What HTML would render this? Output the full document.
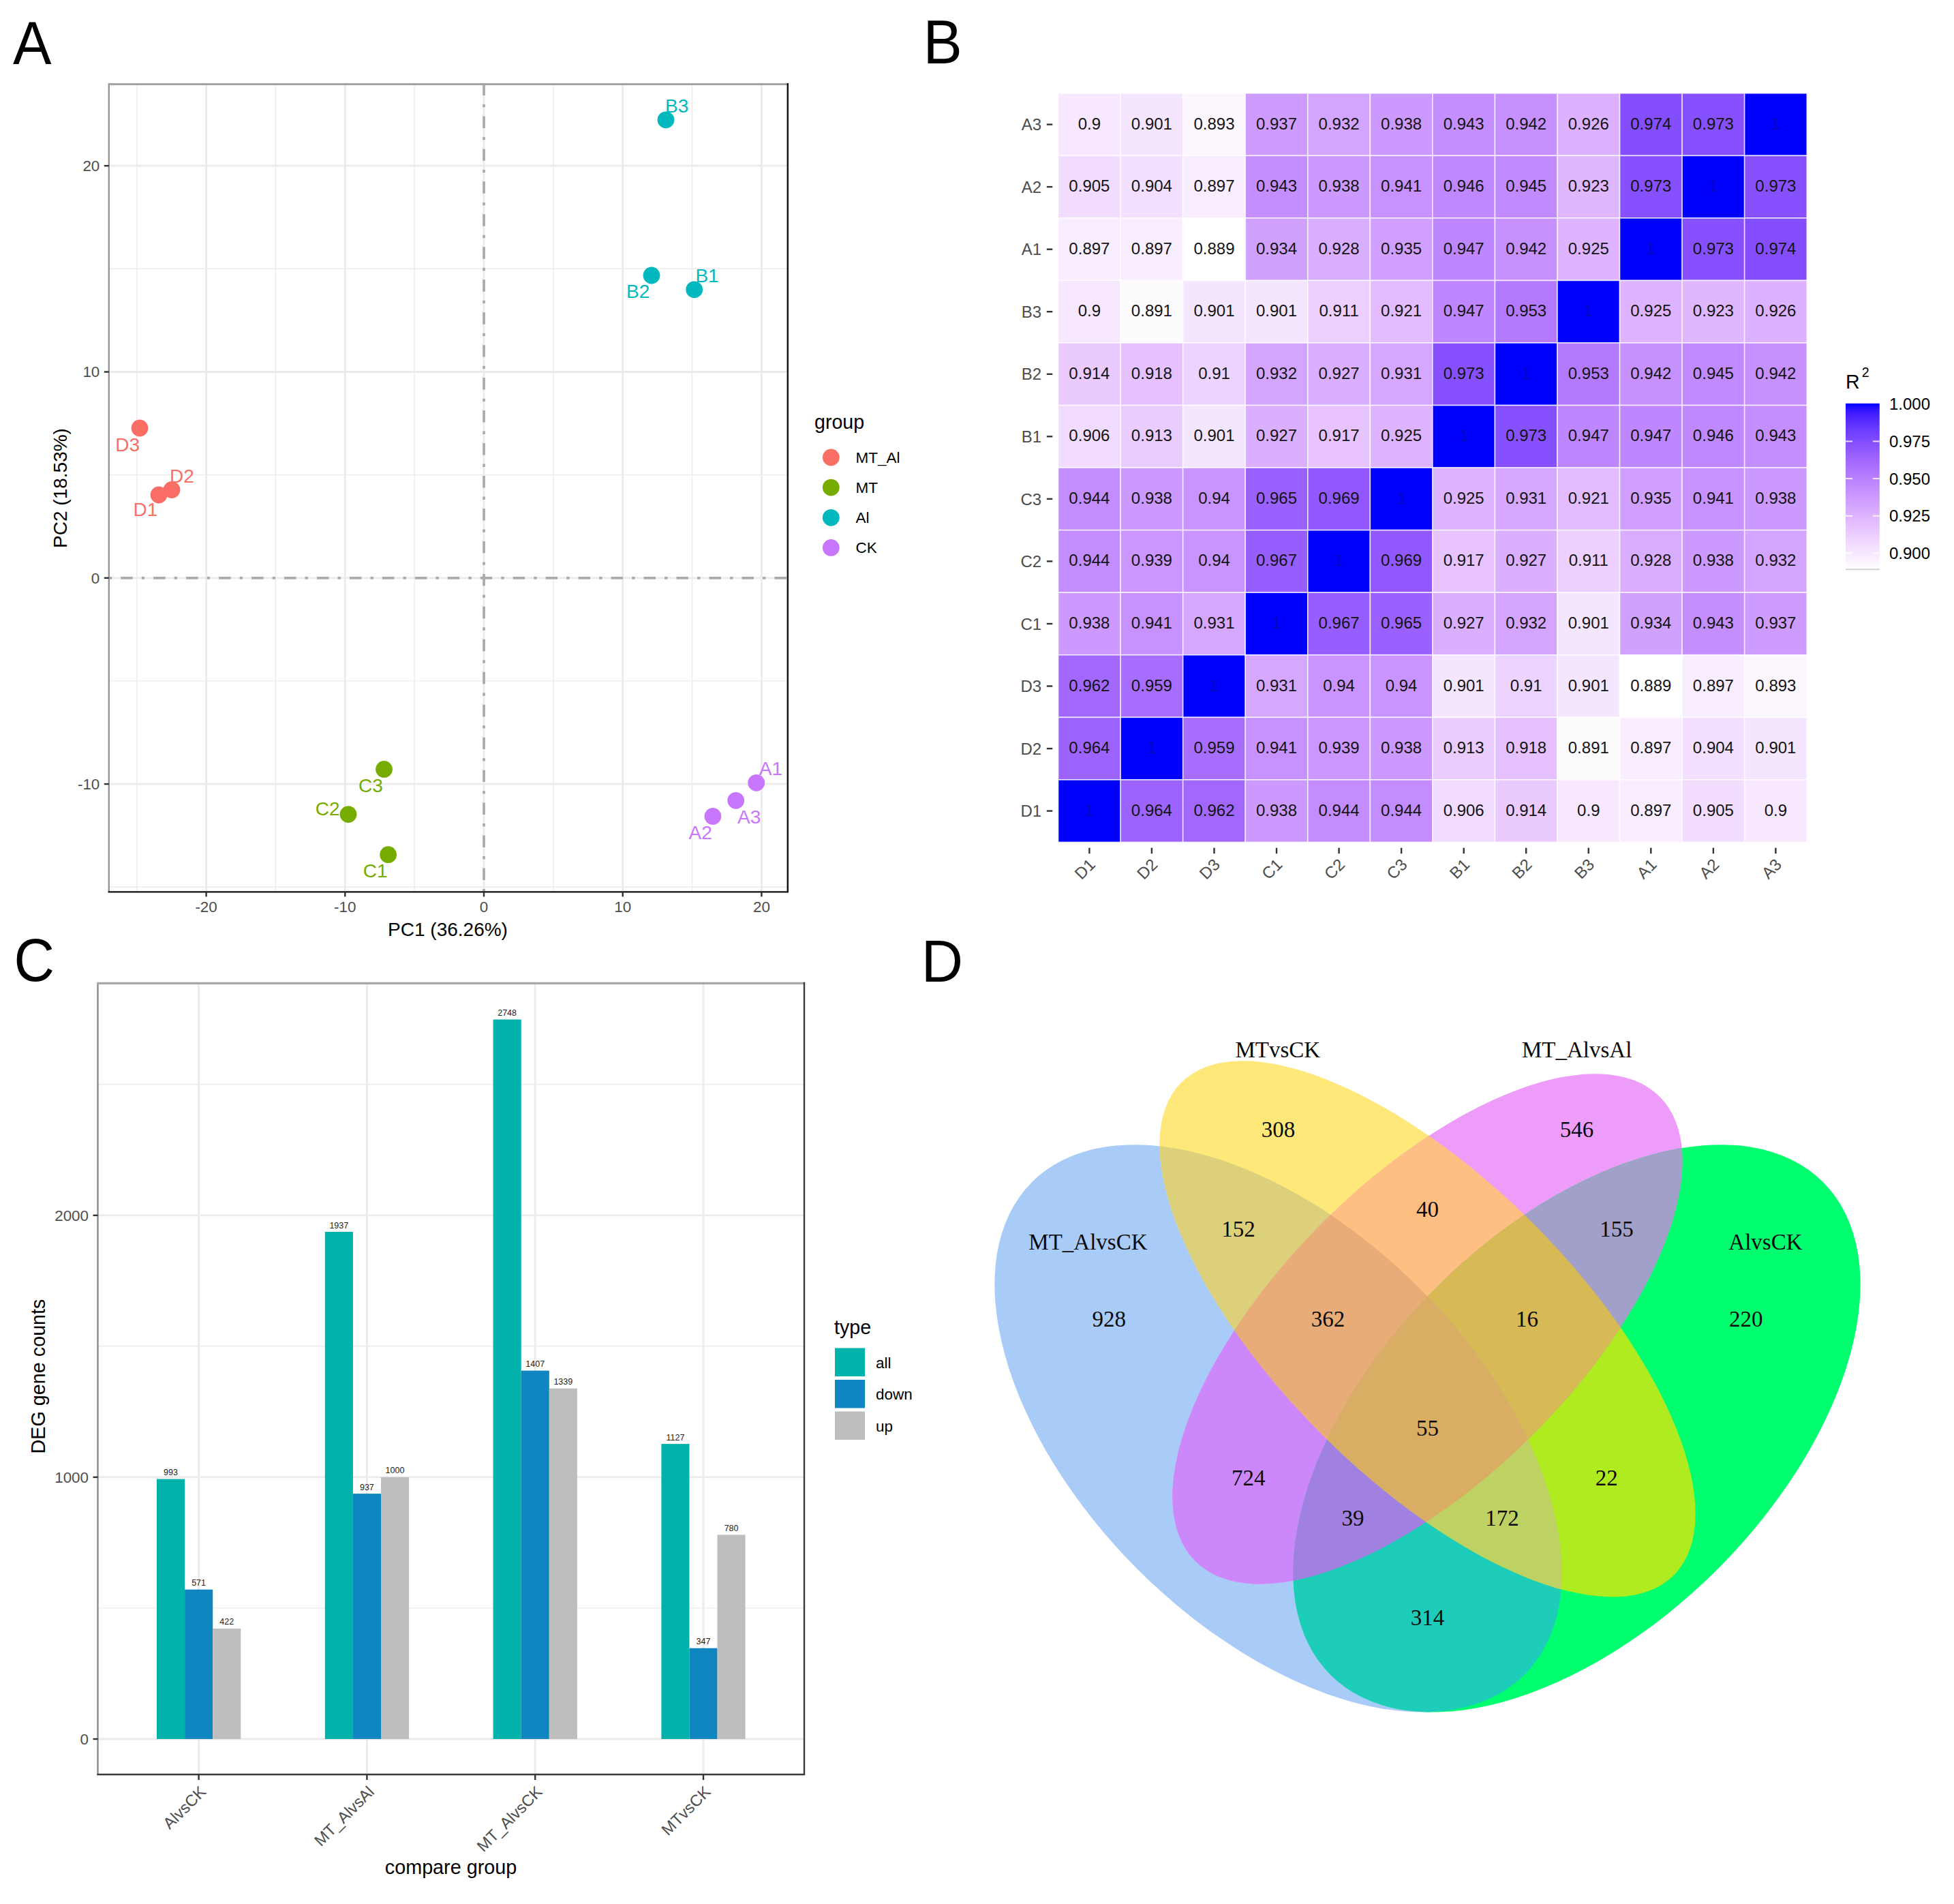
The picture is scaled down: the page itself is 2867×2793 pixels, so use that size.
<!DOCTYPE html>
<html lang="en"><head><meta charset="utf-8"><title>Figure</title>
<style>
html,body{margin:0;padding:0;background:#fff}
svg{display:block}
text{font-family:"Liberation Sans", Arial, Helvetica, sans-serif}
.pl{font-size:90px;fill:#000}
.ax{font-size:22.4px;fill:#4d4d4d}
.at{font-size:27.5px;fill:#000}
.lt{font-size:28.6px;fill:#000}
.ll{font-size:22.5px;fill:#000}
.pt{font-size:28px}
.hv{font-size:24px;fill:#141414;text-anchor:middle}
.hy{font-size:24px;fill:#4d4d4d;text-anchor:end}
.hx{font-size:24px;fill:#4d4d4d;text-anchor:end}
.bl{font-size:12.5px;fill:#222;text-anchor:middle}
.vn{font-family:"Liberation Serif", "Times New Roman", serif;font-size:33px;fill:#0a0a0a;text-anchor:middle}
</style></head><body>
<svg width="2867" height="2793" viewBox="0 0 2867 2793">
<rect width="2867" height="2793" fill="#fff"/>

<text class="pl" style="font-size:89.5px" transform="translate(19 93.8) scale(0.946 1)">A</text>
<text class="pl" style="font-size:90px" transform="translate(1354.5 93.3) scale(0.955 1)">B</text>
<text class="pl" style="font-size:88.5px" transform="translate(20.6 1439.2) scale(0.93 1)">C</text>
<text class="pl" style="font-size:87px" transform="translate(1351.7 1440.1) scale(0.975 1)">D</text>
<g id="panelA">
<line x1="200.8" x2="200.8" y1="123.5" y2="1308.4" stroke="#ebebeb" stroke-width="1.4"/>
<line x1="404.4" x2="404.4" y1="123.5" y2="1308.4" stroke="#ebebeb" stroke-width="1.4"/>
<line x1="608.1" x2="608.1" y1="123.5" y2="1308.4" stroke="#ebebeb" stroke-width="1.4"/>
<line x1="811.9" x2="811.9" y1="123.5" y2="1308.4" stroke="#ebebeb" stroke-width="1.4"/>
<line x1="1015.5" x2="1015.5" y1="123.5" y2="1308.4" stroke="#ebebeb" stroke-width="1.4"/>
<line y1="1301.2" y2="1301.2" x1="159.8" x2="1155.8" stroke="#ebebeb" stroke-width="1.4"/>
<line y1="998.9" y2="998.9" x1="159.8" x2="1155.8" stroke="#ebebeb" stroke-width="1.4"/>
<line y1="696.6" y2="696.6" x1="159.8" x2="1155.8" stroke="#ebebeb" stroke-width="1.4"/>
<line y1="394.3" y2="394.3" x1="159.8" x2="1155.8" stroke="#ebebeb" stroke-width="1.4"/>
<line x1="302.6" x2="302.6" y1="123.5" y2="1308.4" stroke="#ebebeb" stroke-width="2.8"/>
<line x1="506.3" x2="506.3" y1="123.5" y2="1308.4" stroke="#ebebeb" stroke-width="2.8"/>
<line x1="710.0" x2="710.0" y1="123.5" y2="1308.4" stroke="#ebebeb" stroke-width="2.8"/>
<line x1="913.7" x2="913.7" y1="123.5" y2="1308.4" stroke="#ebebeb" stroke-width="2.8"/>
<line x1="1117.4" x2="1117.4" y1="123.5" y2="1308.4" stroke="#ebebeb" stroke-width="2.8"/>
<line y1="1150.1" y2="1150.1" x1="159.8" x2="1155.8" stroke="#ebebeb" stroke-width="2.8"/>
<line y1="847.8" y2="847.8" x1="159.8" x2="1155.8" stroke="#ebebeb" stroke-width="2.8"/>
<line y1="545.5" y2="545.5" x1="159.8" x2="1155.8" stroke="#ebebeb" stroke-width="2.8"/>
<line y1="243.2" y2="243.2" x1="159.8" x2="1155.8" stroke="#ebebeb" stroke-width="2.8"/>
<line x1="710.0" x2="710.0" y1="1308.4" y2="123.5" stroke="#ababab" stroke-width="3.8" stroke-dasharray="4.36 13.08 17.44 13.08"/>
<line y1="847.8" y2="847.8" x1="159.8" x2="1155.8" stroke="#ababab" stroke-width="3.8" stroke-dasharray="4.36 13.08 17.44 13.08"/>
<circle cx="977" cy="175.8" r="12.4" fill="#00B8BE"/>
<circle cx="956" cy="404" r="12.4" fill="#00B8BE"/>
<circle cx="1018.7" cy="424.8" r="12.4" fill="#00B8BE"/>
<circle cx="205" cy="628" r="12.4" fill="#FA6E66"/>
<circle cx="252" cy="718.5" r="12.4" fill="#FA6E66"/>
<circle cx="233" cy="726" r="12.4" fill="#FA6E66"/>
<circle cx="563.5" cy="1128.4" r="12.4" fill="#76AC00"/>
<circle cx="511" cy="1194.6" r="12.4" fill="#76AC00"/>
<circle cx="569.6" cy="1253.7" r="12.4" fill="#76AC00"/>
<circle cx="1109.7" cy="1148.3" r="12.4" fill="#C876FC"/>
<circle cx="1079.7" cy="1174.3" r="12.4" fill="#C876FC"/>
<circle cx="1045.9" cy="1197.4" r="12.4" fill="#C876FC"/>
<text class="pt" x="976" y="165" fill="#00B8BE">B3</text>
<text class="pt" x="919" y="436.6" fill="#00B8BE">B2</text>
<text class="pt" x="1020.4" y="413.8" fill="#00B8BE">B1</text>
<text class="pt" x="169.3" y="661.8" fill="#FA6E66">D3</text>
<text class="pt" x="249" y="708" fill="#FA6E66">D2</text>
<text class="pt" x="195.5" y="757.4" fill="#FA6E66">D1</text>
<text class="pt" x="526" y="1161.5" fill="#76AC00">C3</text>
<text class="pt" x="462.7" y="1196" fill="#76AC00">C2</text>
<text class="pt" x="532.7" y="1287" fill="#76AC00">C1</text>
<text class="pt" x="1113.8" y="1137" fill="#C876FC">A1</text>
<text class="pt" x="1082" y="1207.6" fill="#C876FC">A3</text>
<text class="pt" x="1010.5" y="1231" fill="#C876FC">A2</text>
<path d="M159.8 1308.4V123.5" fill="none" stroke="#969696" stroke-width="2.4"/>
<path d="M158.60000000000002 123.5H1155.8" fill="none" stroke="#a4a4a4" stroke-width="2.8"/>
<path d="M1155.8 122.1V1308.4H158.60000000000002" fill="none" stroke="#111" stroke-width="2.4"/>
<line x1="152.8" x2="159.8" y1="1150.1" y2="1150.1" stroke="#333" stroke-width="2.4"/>
<text class="ax" text-anchor="end" x="146.3" y="1157.9">-10</text>
<line x1="152.8" x2="159.8" y1="847.8" y2="847.8" stroke="#333" stroke-width="2.4"/>
<text class="ax" text-anchor="end" x="146.3" y="855.6">0</text>
<line x1="152.8" x2="159.8" y1="545.5" y2="545.5" stroke="#333" stroke-width="2.4"/>
<text class="ax" text-anchor="end" x="146.3" y="553.3">10</text>
<line x1="152.8" x2="159.8" y1="243.2" y2="243.2" stroke="#333" stroke-width="2.4"/>
<text class="ax" text-anchor="end" x="146.3" y="251.0">20</text>
<line y1="1308.4" y2="1315.4" x1="302.6" x2="302.6" stroke="#333" stroke-width="2.4"/>
<text class="ax" text-anchor="middle" x="302.6" y="1337.8">-20</text>
<line y1="1308.4" y2="1315.4" x1="506.3" x2="506.3" stroke="#333" stroke-width="2.4"/>
<text class="ax" text-anchor="middle" x="506.3" y="1337.8">-10</text>
<line y1="1308.4" y2="1315.4" x1="710.0" x2="710.0" stroke="#333" stroke-width="2.4"/>
<text class="ax" text-anchor="middle" x="710.0" y="1337.8">0</text>
<line y1="1308.4" y2="1315.4" x1="913.7" x2="913.7" stroke="#333" stroke-width="2.4"/>
<text class="ax" text-anchor="middle" x="913.7" y="1337.8">10</text>
<line y1="1308.4" y2="1315.4" x1="1117.4" x2="1117.4" stroke="#333" stroke-width="2.4"/>
<text class="ax" text-anchor="middle" x="1117.4" y="1337.8">20</text>
<text class="at" text-anchor="middle" x="657" y="1372.6" style="font-size:28px">PC1 (36.26%)</text>
<text class="at" text-anchor="middle" transform="translate(98 716) rotate(-90)" style="font-size:28px">PC2 (18.53%)</text>
<text class="lt" x="1195" y="629.3">group</text>
<circle cx="1219.3" cy="671.0" r="12.4" fill="#FA6E66"/>
<text class="ll" x="1255.5" y="679.0">MT_Al</text>
<circle cx="1219.3" cy="715.1" r="12.4" fill="#76AC00"/>
<text class="ll" x="1255.5" y="723.1">MT</text>
<circle cx="1219.3" cy="759.3" r="12.4" fill="#00B8BE"/>
<text class="ll" x="1255.5" y="767.3">Al</text>
<circle cx="1219.3" cy="803.4" r="12.4" fill="#C876FC"/>
<text class="ll" x="1255.5" y="811.4">CK</text>
</g>
<g id="panelB">
<rect x="1552.60" y="136.80" width="91.55" height="91.55" fill="#f7e8ff" stroke="#fff" stroke-opacity="0.75" stroke-width="1.6"/>
<rect x="1552.60" y="228.35" width="91.55" height="91.55" fill="#f2ddff" stroke="#fff" stroke-opacity="0.75" stroke-width="1.6"/>
<rect x="1552.60" y="319.90" width="91.55" height="91.55" fill="#f8eeff" stroke="#fff" stroke-opacity="0.75" stroke-width="1.6"/>
<rect x="1552.60" y="411.45" width="91.55" height="91.55" fill="#f7e8ff" stroke="#fff" stroke-opacity="0.75" stroke-width="1.6"/>
<rect x="1552.60" y="503.00" width="91.55" height="91.55" fill="#eacaff" stroke="#fff" stroke-opacity="0.75" stroke-width="1.6"/>
<rect x="1552.60" y="594.55" width="91.55" height="91.55" fill="#f1dbff" stroke="#fff" stroke-opacity="0.75" stroke-width="1.6"/>
<rect x="1552.60" y="686.10" width="91.55" height="91.55" fill="#c38cff" stroke="#fff" stroke-opacity="0.75" stroke-width="1.6"/>
<rect x="1552.60" y="777.65" width="91.55" height="91.55" fill="#c38cff" stroke="#fff" stroke-opacity="0.75" stroke-width="1.6"/>
<rect x="1552.60" y="869.20" width="91.55" height="91.55" fill="#cc99ff" stroke="#fff" stroke-opacity="0.75" stroke-width="1.6"/>
<rect x="1552.60" y="960.75" width="91.55" height="91.55" fill="#a167ff" stroke="#fff" stroke-opacity="0.75" stroke-width="1.6"/>
<rect x="1552.60" y="1052.30" width="91.55" height="91.55" fill="#9d63ff" stroke="#fff" stroke-opacity="0.75" stroke-width="1.6"/>
<rect x="1552.60" y="1143.85" width="91.55" height="91.55" fill="#0000ff" stroke="#fff" stroke-opacity="0.75" stroke-width="1.6"/>
<rect x="1644.15" y="136.80" width="91.55" height="91.55" fill="#f5e6ff" stroke="#fff" stroke-opacity="0.75" stroke-width="1.6"/>
<rect x="1644.15" y="228.35" width="91.55" height="91.55" fill="#f3dfff" stroke="#fff" stroke-opacity="0.75" stroke-width="1.6"/>
<rect x="1644.15" y="319.90" width="91.55" height="91.55" fill="#f8eeff" stroke="#fff" stroke-opacity="0.75" stroke-width="1.6"/>
<rect x="1644.15" y="411.45" width="91.55" height="91.55" fill="#fefbff" stroke="#fff" stroke-opacity="0.75" stroke-width="1.6"/>
<rect x="1644.15" y="503.00" width="91.55" height="91.55" fill="#e5c2ff" stroke="#fff" stroke-opacity="0.75" stroke-width="1.6"/>
<rect x="1644.15" y="594.55" width="91.55" height="91.55" fill="#eaccff" stroke="#fff" stroke-opacity="0.75" stroke-width="1.6"/>
<rect x="1644.15" y="686.10" width="91.55" height="91.55" fill="#cc99ff" stroke="#fff" stroke-opacity="0.75" stroke-width="1.6"/>
<rect x="1644.15" y="777.65" width="91.55" height="91.55" fill="#cb96ff" stroke="#fff" stroke-opacity="0.75" stroke-width="1.6"/>
<rect x="1644.15" y="869.20" width="91.55" height="91.55" fill="#c792ff" stroke="#fff" stroke-opacity="0.75" stroke-width="1.6"/>
<rect x="1644.15" y="960.75" width="91.55" height="91.55" fill="#a76dff" stroke="#fff" stroke-opacity="0.75" stroke-width="1.6"/>
<rect x="1644.15" y="1052.30" width="91.55" height="91.55" fill="#0000ff" stroke="#fff" stroke-opacity="0.75" stroke-width="1.6"/>
<rect x="1644.15" y="1143.85" width="91.55" height="91.55" fill="#9d63ff" stroke="#fff" stroke-opacity="0.75" stroke-width="1.6"/>
<rect x="1735.70" y="136.80" width="91.55" height="91.55" fill="#fcf6ff" stroke="#fff" stroke-opacity="0.75" stroke-width="1.6"/>
<rect x="1735.70" y="228.35" width="91.55" height="91.55" fill="#f8eeff" stroke="#fff" stroke-opacity="0.75" stroke-width="1.6"/>
<rect x="1735.70" y="319.90" width="91.55" height="91.55" fill="#ffffff" stroke="#fff" stroke-opacity="0.75" stroke-width="1.6"/>
<rect x="1735.70" y="411.45" width="91.55" height="91.55" fill="#f5e6ff" stroke="#fff" stroke-opacity="0.75" stroke-width="1.6"/>
<rect x="1735.70" y="503.00" width="91.55" height="91.55" fill="#edd3ff" stroke="#fff" stroke-opacity="0.75" stroke-width="1.6"/>
<rect x="1735.70" y="594.55" width="91.55" height="91.55" fill="#f5e6ff" stroke="#fff" stroke-opacity="0.75" stroke-width="1.6"/>
<rect x="1735.70" y="686.10" width="91.55" height="91.55" fill="#c994ff" stroke="#fff" stroke-opacity="0.75" stroke-width="1.6"/>
<rect x="1735.70" y="777.65" width="91.55" height="91.55" fill="#c994ff" stroke="#fff" stroke-opacity="0.75" stroke-width="1.6"/>
<rect x="1735.70" y="869.20" width="91.55" height="91.55" fill="#d6a7ff" stroke="#fff" stroke-opacity="0.75" stroke-width="1.6"/>
<rect x="1735.70" y="960.75" width="91.55" height="91.55" fill="#0000ff" stroke="#fff" stroke-opacity="0.75" stroke-width="1.6"/>
<rect x="1735.70" y="1052.30" width="91.55" height="91.55" fill="#a76dff" stroke="#fff" stroke-opacity="0.75" stroke-width="1.6"/>
<rect x="1735.70" y="1143.85" width="91.55" height="91.55" fill="#a167ff" stroke="#fff" stroke-opacity="0.75" stroke-width="1.6"/>
<rect x="1827.25" y="136.80" width="91.55" height="91.55" fill="#ce9bff" stroke="#fff" stroke-opacity="0.75" stroke-width="1.6"/>
<rect x="1827.25" y="228.35" width="91.55" height="91.55" fill="#c48eff" stroke="#fff" stroke-opacity="0.75" stroke-width="1.6"/>
<rect x="1827.25" y="319.90" width="91.55" height="91.55" fill="#d1a1ff" stroke="#fff" stroke-opacity="0.75" stroke-width="1.6"/>
<rect x="1827.25" y="411.45" width="91.55" height="91.55" fill="#f5e6ff" stroke="#fff" stroke-opacity="0.75" stroke-width="1.6"/>
<rect x="1827.25" y="503.00" width="91.55" height="91.55" fill="#d4a5ff" stroke="#fff" stroke-opacity="0.75" stroke-width="1.6"/>
<rect x="1827.25" y="594.55" width="91.55" height="91.55" fill="#dbafff" stroke="#fff" stroke-opacity="0.75" stroke-width="1.6"/>
<rect x="1827.25" y="686.10" width="91.55" height="91.55" fill="#9b61ff" stroke="#fff" stroke-opacity="0.75" stroke-width="1.6"/>
<rect x="1827.25" y="777.65" width="91.55" height="91.55" fill="#965dff" stroke="#fff" stroke-opacity="0.75" stroke-width="1.6"/>
<rect x="1827.25" y="869.20" width="91.55" height="91.55" fill="#0000ff" stroke="#fff" stroke-opacity="0.75" stroke-width="1.6"/>
<rect x="1827.25" y="960.75" width="91.55" height="91.55" fill="#d6a7ff" stroke="#fff" stroke-opacity="0.75" stroke-width="1.6"/>
<rect x="1827.25" y="1052.30" width="91.55" height="91.55" fill="#c792ff" stroke="#fff" stroke-opacity="0.75" stroke-width="1.6"/>
<rect x="1827.25" y="1143.85" width="91.55" height="91.55" fill="#cc99ff" stroke="#fff" stroke-opacity="0.75" stroke-width="1.6"/>
<rect x="1918.80" y="136.80" width="91.55" height="91.55" fill="#d4a5ff" stroke="#fff" stroke-opacity="0.75" stroke-width="1.6"/>
<rect x="1918.80" y="228.35" width="91.55" height="91.55" fill="#cc99ff" stroke="#fff" stroke-opacity="0.75" stroke-width="1.6"/>
<rect x="1918.80" y="319.90" width="91.55" height="91.55" fill="#d9adff" stroke="#fff" stroke-opacity="0.75" stroke-width="1.6"/>
<rect x="1918.80" y="411.45" width="91.55" height="91.55" fill="#edd0ff" stroke="#fff" stroke-opacity="0.75" stroke-width="1.6"/>
<rect x="1918.80" y="503.00" width="91.55" height="91.55" fill="#dbafff" stroke="#fff" stroke-opacity="0.75" stroke-width="1.6"/>
<rect x="1918.80" y="594.55" width="91.55" height="91.55" fill="#e7c4ff" stroke="#fff" stroke-opacity="0.75" stroke-width="1.6"/>
<rect x="1918.80" y="686.10" width="91.55" height="91.55" fill="#9158ff" stroke="#fff" stroke-opacity="0.75" stroke-width="1.6"/>
<rect x="1918.80" y="777.65" width="91.55" height="91.55" fill="#0000ff" stroke="#fff" stroke-opacity="0.75" stroke-width="1.6"/>
<rect x="1918.80" y="869.20" width="91.55" height="91.55" fill="#965dff" stroke="#fff" stroke-opacity="0.75" stroke-width="1.6"/>
<rect x="1918.80" y="960.75" width="91.55" height="91.55" fill="#c994ff" stroke="#fff" stroke-opacity="0.75" stroke-width="1.6"/>
<rect x="1918.80" y="1052.30" width="91.55" height="91.55" fill="#cb96ff" stroke="#fff" stroke-opacity="0.75" stroke-width="1.6"/>
<rect x="1918.80" y="1143.85" width="91.55" height="91.55" fill="#c38cff" stroke="#fff" stroke-opacity="0.75" stroke-width="1.6"/>
<rect x="2010.35" y="136.80" width="91.55" height="91.55" fill="#cc99ff" stroke="#fff" stroke-opacity="0.75" stroke-width="1.6"/>
<rect x="2010.35" y="228.35" width="91.55" height="91.55" fill="#c792ff" stroke="#fff" stroke-opacity="0.75" stroke-width="1.6"/>
<rect x="2010.35" y="319.90" width="91.55" height="91.55" fill="#d09fff" stroke="#fff" stroke-opacity="0.75" stroke-width="1.6"/>
<rect x="2010.35" y="411.45" width="91.55" height="91.55" fill="#e2bcff" stroke="#fff" stroke-opacity="0.75" stroke-width="1.6"/>
<rect x="2010.35" y="503.00" width="91.55" height="91.55" fill="#d6a7ff" stroke="#fff" stroke-opacity="0.75" stroke-width="1.6"/>
<rect x="2010.35" y="594.55" width="91.55" height="91.55" fill="#deb3ff" stroke="#fff" stroke-opacity="0.75" stroke-width="1.6"/>
<rect x="2010.35" y="686.10" width="91.55" height="91.55" fill="#0000ff" stroke="#fff" stroke-opacity="0.75" stroke-width="1.6"/>
<rect x="2010.35" y="777.65" width="91.55" height="91.55" fill="#9158ff" stroke="#fff" stroke-opacity="0.75" stroke-width="1.6"/>
<rect x="2010.35" y="869.20" width="91.55" height="91.55" fill="#9b61ff" stroke="#fff" stroke-opacity="0.75" stroke-width="1.6"/>
<rect x="2010.35" y="960.75" width="91.55" height="91.55" fill="#c994ff" stroke="#fff" stroke-opacity="0.75" stroke-width="1.6"/>
<rect x="2010.35" y="1052.30" width="91.55" height="91.55" fill="#cc99ff" stroke="#fff" stroke-opacity="0.75" stroke-width="1.6"/>
<rect x="2010.35" y="1143.85" width="91.55" height="91.55" fill="#c38cff" stroke="#fff" stroke-opacity="0.75" stroke-width="1.6"/>
<rect x="2101.90" y="136.80" width="91.55" height="91.55" fill="#c48eff" stroke="#fff" stroke-opacity="0.75" stroke-width="1.6"/>
<rect x="2101.90" y="228.35" width="91.55" height="91.55" fill="#bf88ff" stroke="#fff" stroke-opacity="0.75" stroke-width="1.6"/>
<rect x="2101.90" y="319.90" width="91.55" height="91.55" fill="#be86ff" stroke="#fff" stroke-opacity="0.75" stroke-width="1.6"/>
<rect x="2101.90" y="411.45" width="91.55" height="91.55" fill="#be86ff" stroke="#fff" stroke-opacity="0.75" stroke-width="1.6"/>
<rect x="2101.90" y="503.00" width="91.55" height="91.55" fill="#8650ff" stroke="#fff" stroke-opacity="0.75" stroke-width="1.6"/>
<rect x="2101.90" y="594.55" width="91.55" height="91.55" fill="#0000ff" stroke="#fff" stroke-opacity="0.75" stroke-width="1.6"/>
<rect x="2101.90" y="686.10" width="91.55" height="91.55" fill="#deb3ff" stroke="#fff" stroke-opacity="0.75" stroke-width="1.6"/>
<rect x="2101.90" y="777.65" width="91.55" height="91.55" fill="#e7c4ff" stroke="#fff" stroke-opacity="0.75" stroke-width="1.6"/>
<rect x="2101.90" y="869.20" width="91.55" height="91.55" fill="#dbafff" stroke="#fff" stroke-opacity="0.75" stroke-width="1.6"/>
<rect x="2101.90" y="960.75" width="91.55" height="91.55" fill="#f5e6ff" stroke="#fff" stroke-opacity="0.75" stroke-width="1.6"/>
<rect x="2101.90" y="1052.30" width="91.55" height="91.55" fill="#eaccff" stroke="#fff" stroke-opacity="0.75" stroke-width="1.6"/>
<rect x="2101.90" y="1143.85" width="91.55" height="91.55" fill="#f1dbff" stroke="#fff" stroke-opacity="0.75" stroke-width="1.6"/>
<rect x="2193.45" y="136.80" width="91.55" height="91.55" fill="#c690ff" stroke="#fff" stroke-opacity="0.75" stroke-width="1.6"/>
<rect x="2193.45" y="228.35" width="91.55" height="91.55" fill="#c18aff" stroke="#fff" stroke-opacity="0.75" stroke-width="1.6"/>
<rect x="2193.45" y="319.90" width="91.55" height="91.55" fill="#c690ff" stroke="#fff" stroke-opacity="0.75" stroke-width="1.6"/>
<rect x="2193.45" y="411.45" width="91.55" height="91.55" fill="#b37aff" stroke="#fff" stroke-opacity="0.75" stroke-width="1.6"/>
<rect x="2193.45" y="503.00" width="91.55" height="91.55" fill="#0000ff" stroke="#fff" stroke-opacity="0.75" stroke-width="1.6"/>
<rect x="2193.45" y="594.55" width="91.55" height="91.55" fill="#8650ff" stroke="#fff" stroke-opacity="0.75" stroke-width="1.6"/>
<rect x="2193.45" y="686.10" width="91.55" height="91.55" fill="#d6a7ff" stroke="#fff" stroke-opacity="0.75" stroke-width="1.6"/>
<rect x="2193.45" y="777.65" width="91.55" height="91.55" fill="#dbafff" stroke="#fff" stroke-opacity="0.75" stroke-width="1.6"/>
<rect x="2193.45" y="869.20" width="91.55" height="91.55" fill="#d4a5ff" stroke="#fff" stroke-opacity="0.75" stroke-width="1.6"/>
<rect x="2193.45" y="960.75" width="91.55" height="91.55" fill="#edd3ff" stroke="#fff" stroke-opacity="0.75" stroke-width="1.6"/>
<rect x="2193.45" y="1052.30" width="91.55" height="91.55" fill="#e5c2ff" stroke="#fff" stroke-opacity="0.75" stroke-width="1.6"/>
<rect x="2193.45" y="1143.85" width="91.55" height="91.55" fill="#eacaff" stroke="#fff" stroke-opacity="0.75" stroke-width="1.6"/>
<rect x="2285.00" y="136.80" width="91.55" height="91.55" fill="#dcb1ff" stroke="#fff" stroke-opacity="0.75" stroke-width="1.6"/>
<rect x="2285.00" y="228.35" width="91.55" height="91.55" fill="#dfb7ff" stroke="#fff" stroke-opacity="0.75" stroke-width="1.6"/>
<rect x="2285.00" y="319.90" width="91.55" height="91.55" fill="#deb3ff" stroke="#fff" stroke-opacity="0.75" stroke-width="1.6"/>
<rect x="2285.00" y="411.45" width="91.55" height="91.55" fill="#0000ff" stroke="#fff" stroke-opacity="0.75" stroke-width="1.6"/>
<rect x="2285.00" y="503.00" width="91.55" height="91.55" fill="#b37aff" stroke="#fff" stroke-opacity="0.75" stroke-width="1.6"/>
<rect x="2285.00" y="594.55" width="91.55" height="91.55" fill="#be86ff" stroke="#fff" stroke-opacity="0.75" stroke-width="1.6"/>
<rect x="2285.00" y="686.10" width="91.55" height="91.55" fill="#e2bcff" stroke="#fff" stroke-opacity="0.75" stroke-width="1.6"/>
<rect x="2285.00" y="777.65" width="91.55" height="91.55" fill="#edd0ff" stroke="#fff" stroke-opacity="0.75" stroke-width="1.6"/>
<rect x="2285.00" y="869.20" width="91.55" height="91.55" fill="#f5e6ff" stroke="#fff" stroke-opacity="0.75" stroke-width="1.6"/>
<rect x="2285.00" y="960.75" width="91.55" height="91.55" fill="#f5e6ff" stroke="#fff" stroke-opacity="0.75" stroke-width="1.6"/>
<rect x="2285.00" y="1052.30" width="91.55" height="91.55" fill="#fefbff" stroke="#fff" stroke-opacity="0.75" stroke-width="1.6"/>
<rect x="2285.00" y="1143.85" width="91.55" height="91.55" fill="#f7e8ff" stroke="#fff" stroke-opacity="0.75" stroke-width="1.6"/>
<rect x="2376.55" y="136.80" width="91.55" height="91.55" fill="#844eff" stroke="#fff" stroke-opacity="0.75" stroke-width="1.6"/>
<rect x="2376.55" y="228.35" width="91.55" height="91.55" fill="#8650ff" stroke="#fff" stroke-opacity="0.75" stroke-width="1.6"/>
<rect x="2376.55" y="319.90" width="91.55" height="91.55" fill="#0000ff" stroke="#fff" stroke-opacity="0.75" stroke-width="1.6"/>
<rect x="2376.55" y="411.45" width="91.55" height="91.55" fill="#deb3ff" stroke="#fff" stroke-opacity="0.75" stroke-width="1.6"/>
<rect x="2376.55" y="503.00" width="91.55" height="91.55" fill="#c690ff" stroke="#fff" stroke-opacity="0.75" stroke-width="1.6"/>
<rect x="2376.55" y="594.55" width="91.55" height="91.55" fill="#be86ff" stroke="#fff" stroke-opacity="0.75" stroke-width="1.6"/>
<rect x="2376.55" y="686.10" width="91.55" height="91.55" fill="#d09fff" stroke="#fff" stroke-opacity="0.75" stroke-width="1.6"/>
<rect x="2376.55" y="777.65" width="91.55" height="91.55" fill="#d9adff" stroke="#fff" stroke-opacity="0.75" stroke-width="1.6"/>
<rect x="2376.55" y="869.20" width="91.55" height="91.55" fill="#d1a1ff" stroke="#fff" stroke-opacity="0.75" stroke-width="1.6"/>
<rect x="2376.55" y="960.75" width="91.55" height="91.55" fill="#ffffff" stroke="#fff" stroke-opacity="0.75" stroke-width="1.6"/>
<rect x="2376.55" y="1052.30" width="91.55" height="91.55" fill="#f8eeff" stroke="#fff" stroke-opacity="0.75" stroke-width="1.6"/>
<rect x="2376.55" y="1143.85" width="91.55" height="91.55" fill="#f8eeff" stroke="#fff" stroke-opacity="0.75" stroke-width="1.6"/>
<rect x="2468.10" y="136.80" width="91.55" height="91.55" fill="#8650ff" stroke="#fff" stroke-opacity="0.75" stroke-width="1.6"/>
<rect x="2468.10" y="228.35" width="91.55" height="91.55" fill="#0000ff" stroke="#fff" stroke-opacity="0.75" stroke-width="1.6"/>
<rect x="2468.10" y="319.90" width="91.55" height="91.55" fill="#8650ff" stroke="#fff" stroke-opacity="0.75" stroke-width="1.6"/>
<rect x="2468.10" y="411.45" width="91.55" height="91.55" fill="#dfb7ff" stroke="#fff" stroke-opacity="0.75" stroke-width="1.6"/>
<rect x="2468.10" y="503.00" width="91.55" height="91.55" fill="#c18aff" stroke="#fff" stroke-opacity="0.75" stroke-width="1.6"/>
<rect x="2468.10" y="594.55" width="91.55" height="91.55" fill="#bf88ff" stroke="#fff" stroke-opacity="0.75" stroke-width="1.6"/>
<rect x="2468.10" y="686.10" width="91.55" height="91.55" fill="#c792ff" stroke="#fff" stroke-opacity="0.75" stroke-width="1.6"/>
<rect x="2468.10" y="777.65" width="91.55" height="91.55" fill="#cc99ff" stroke="#fff" stroke-opacity="0.75" stroke-width="1.6"/>
<rect x="2468.10" y="869.20" width="91.55" height="91.55" fill="#c48eff" stroke="#fff" stroke-opacity="0.75" stroke-width="1.6"/>
<rect x="2468.10" y="960.75" width="91.55" height="91.55" fill="#f8eeff" stroke="#fff" stroke-opacity="0.75" stroke-width="1.6"/>
<rect x="2468.10" y="1052.30" width="91.55" height="91.55" fill="#f3dfff" stroke="#fff" stroke-opacity="0.75" stroke-width="1.6"/>
<rect x="2468.10" y="1143.85" width="91.55" height="91.55" fill="#f2ddff" stroke="#fff" stroke-opacity="0.75" stroke-width="1.6"/>
<rect x="2559.65" y="136.80" width="91.55" height="91.55" fill="#0000ff" stroke="#fff" stroke-opacity="0.75" stroke-width="1.6"/>
<rect x="2559.65" y="228.35" width="91.55" height="91.55" fill="#8650ff" stroke="#fff" stroke-opacity="0.75" stroke-width="1.6"/>
<rect x="2559.65" y="319.90" width="91.55" height="91.55" fill="#844eff" stroke="#fff" stroke-opacity="0.75" stroke-width="1.6"/>
<rect x="2559.65" y="411.45" width="91.55" height="91.55" fill="#dcb1ff" stroke="#fff" stroke-opacity="0.75" stroke-width="1.6"/>
<rect x="2559.65" y="503.00" width="91.55" height="91.55" fill="#c690ff" stroke="#fff" stroke-opacity="0.75" stroke-width="1.6"/>
<rect x="2559.65" y="594.55" width="91.55" height="91.55" fill="#c48eff" stroke="#fff" stroke-opacity="0.75" stroke-width="1.6"/>
<rect x="2559.65" y="686.10" width="91.55" height="91.55" fill="#cc99ff" stroke="#fff" stroke-opacity="0.75" stroke-width="1.6"/>
<rect x="2559.65" y="777.65" width="91.55" height="91.55" fill="#d4a5ff" stroke="#fff" stroke-opacity="0.75" stroke-width="1.6"/>
<rect x="2559.65" y="869.20" width="91.55" height="91.55" fill="#ce9bff" stroke="#fff" stroke-opacity="0.75" stroke-width="1.6"/>
<rect x="2559.65" y="960.75" width="91.55" height="91.55" fill="#fcf6ff" stroke="#fff" stroke-opacity="0.75" stroke-width="1.6"/>
<rect x="2559.65" y="1052.30" width="91.55" height="91.55" fill="#f5e6ff" stroke="#fff" stroke-opacity="0.75" stroke-width="1.6"/>
<rect x="2559.65" y="1143.85" width="91.55" height="91.55" fill="#f7e8ff" stroke="#fff" stroke-opacity="0.75" stroke-width="1.6"/>
<text class="hv" x="1598.4" y="189.6">0.9</text>
<text class="hv" x="1598.4" y="281.1">0.905</text>
<text class="hv" x="1598.4" y="372.7">0.897</text>
<text class="hv" x="1598.4" y="464.2">0.9</text>
<text class="hv" x="1598.4" y="555.8">0.914</text>
<text class="hv" x="1598.4" y="647.3">0.906</text>
<text class="hv" x="1598.4" y="738.9">0.944</text>
<text class="hv" x="1598.4" y="830.4">0.944</text>
<text class="hv" x="1598.4" y="922.0">0.938</text>
<text class="hv" x="1598.4" y="1013.5">0.962</text>
<text class="hv" x="1598.4" y="1105.1">0.964</text>
<text class="hv" x="1598.4" y="1196.6" fill-opacity="0.3">1</text>
<text class="hv" x="1689.9" y="189.6">0.901</text>
<text class="hv" x="1689.9" y="281.1">0.904</text>
<text class="hv" x="1689.9" y="372.7">0.897</text>
<text class="hv" x="1689.9" y="464.2">0.891</text>
<text class="hv" x="1689.9" y="555.8">0.918</text>
<text class="hv" x="1689.9" y="647.3">0.913</text>
<text class="hv" x="1689.9" y="738.9">0.938</text>
<text class="hv" x="1689.9" y="830.4">0.939</text>
<text class="hv" x="1689.9" y="922.0">0.941</text>
<text class="hv" x="1689.9" y="1013.5">0.959</text>
<text class="hv" x="1689.9" y="1105.1" fill-opacity="0.3">1</text>
<text class="hv" x="1689.9" y="1196.6">0.964</text>
<text class="hv" x="1781.5" y="189.6">0.893</text>
<text class="hv" x="1781.5" y="281.1">0.897</text>
<text class="hv" x="1781.5" y="372.7">0.889</text>
<text class="hv" x="1781.5" y="464.2">0.901</text>
<text class="hv" x="1781.5" y="555.8">0.91</text>
<text class="hv" x="1781.5" y="647.3">0.901</text>
<text class="hv" x="1781.5" y="738.9">0.94</text>
<text class="hv" x="1781.5" y="830.4">0.94</text>
<text class="hv" x="1781.5" y="922.0">0.931</text>
<text class="hv" x="1781.5" y="1013.5" fill-opacity="0.3">1</text>
<text class="hv" x="1781.5" y="1105.1">0.959</text>
<text class="hv" x="1781.5" y="1196.6">0.962</text>
<text class="hv" x="1873.0" y="189.6">0.937</text>
<text class="hv" x="1873.0" y="281.1">0.943</text>
<text class="hv" x="1873.0" y="372.7">0.934</text>
<text class="hv" x="1873.0" y="464.2">0.901</text>
<text class="hv" x="1873.0" y="555.8">0.932</text>
<text class="hv" x="1873.0" y="647.3">0.927</text>
<text class="hv" x="1873.0" y="738.9">0.965</text>
<text class="hv" x="1873.0" y="830.4">0.967</text>
<text class="hv" x="1873.0" y="922.0" fill-opacity="0.3">1</text>
<text class="hv" x="1873.0" y="1013.5">0.931</text>
<text class="hv" x="1873.0" y="1105.1">0.941</text>
<text class="hv" x="1873.0" y="1196.6">0.938</text>
<text class="hv" x="1964.6" y="189.6">0.932</text>
<text class="hv" x="1964.6" y="281.1">0.938</text>
<text class="hv" x="1964.6" y="372.7">0.928</text>
<text class="hv" x="1964.6" y="464.2">0.911</text>
<text class="hv" x="1964.6" y="555.8">0.927</text>
<text class="hv" x="1964.6" y="647.3">0.917</text>
<text class="hv" x="1964.6" y="738.9">0.969</text>
<text class="hv" x="1964.6" y="830.4" fill-opacity="0.3">1</text>
<text class="hv" x="1964.6" y="922.0">0.967</text>
<text class="hv" x="1964.6" y="1013.5">0.94</text>
<text class="hv" x="1964.6" y="1105.1">0.939</text>
<text class="hv" x="1964.6" y="1196.6">0.944</text>
<text class="hv" x="2056.1" y="189.6">0.938</text>
<text class="hv" x="2056.1" y="281.1">0.941</text>
<text class="hv" x="2056.1" y="372.7">0.935</text>
<text class="hv" x="2056.1" y="464.2">0.921</text>
<text class="hv" x="2056.1" y="555.8">0.931</text>
<text class="hv" x="2056.1" y="647.3">0.925</text>
<text class="hv" x="2056.1" y="738.9" fill-opacity="0.3">1</text>
<text class="hv" x="2056.1" y="830.4">0.969</text>
<text class="hv" x="2056.1" y="922.0">0.965</text>
<text class="hv" x="2056.1" y="1013.5">0.94</text>
<text class="hv" x="2056.1" y="1105.1">0.938</text>
<text class="hv" x="2056.1" y="1196.6">0.944</text>
<text class="hv" x="2147.7" y="189.6">0.943</text>
<text class="hv" x="2147.7" y="281.1">0.946</text>
<text class="hv" x="2147.7" y="372.7">0.947</text>
<text class="hv" x="2147.7" y="464.2">0.947</text>
<text class="hv" x="2147.7" y="555.8">0.973</text>
<text class="hv" x="2147.7" y="647.3" fill-opacity="0.3">1</text>
<text class="hv" x="2147.7" y="738.9">0.925</text>
<text class="hv" x="2147.7" y="830.4">0.917</text>
<text class="hv" x="2147.7" y="922.0">0.927</text>
<text class="hv" x="2147.7" y="1013.5">0.901</text>
<text class="hv" x="2147.7" y="1105.1">0.913</text>
<text class="hv" x="2147.7" y="1196.6">0.906</text>
<text class="hv" x="2239.2" y="189.6">0.942</text>
<text class="hv" x="2239.2" y="281.1">0.945</text>
<text class="hv" x="2239.2" y="372.7">0.942</text>
<text class="hv" x="2239.2" y="464.2">0.953</text>
<text class="hv" x="2239.2" y="555.8" fill-opacity="0.3">1</text>
<text class="hv" x="2239.2" y="647.3">0.973</text>
<text class="hv" x="2239.2" y="738.9">0.931</text>
<text class="hv" x="2239.2" y="830.4">0.927</text>
<text class="hv" x="2239.2" y="922.0">0.932</text>
<text class="hv" x="2239.2" y="1013.5">0.91</text>
<text class="hv" x="2239.2" y="1105.1">0.918</text>
<text class="hv" x="2239.2" y="1196.6">0.914</text>
<text class="hv" x="2330.8" y="189.6">0.926</text>
<text class="hv" x="2330.8" y="281.1">0.923</text>
<text class="hv" x="2330.8" y="372.7">0.925</text>
<text class="hv" x="2330.8" y="464.2" fill-opacity="0.3">1</text>
<text class="hv" x="2330.8" y="555.8">0.953</text>
<text class="hv" x="2330.8" y="647.3">0.947</text>
<text class="hv" x="2330.8" y="738.9">0.921</text>
<text class="hv" x="2330.8" y="830.4">0.911</text>
<text class="hv" x="2330.8" y="922.0">0.901</text>
<text class="hv" x="2330.8" y="1013.5">0.901</text>
<text class="hv" x="2330.8" y="1105.1">0.891</text>
<text class="hv" x="2330.8" y="1196.6">0.9</text>
<text class="hv" x="2422.3" y="189.6">0.974</text>
<text class="hv" x="2422.3" y="281.1">0.973</text>
<text class="hv" x="2422.3" y="372.7" fill-opacity="0.3">1</text>
<text class="hv" x="2422.3" y="464.2">0.925</text>
<text class="hv" x="2422.3" y="555.8">0.942</text>
<text class="hv" x="2422.3" y="647.3">0.947</text>
<text class="hv" x="2422.3" y="738.9">0.935</text>
<text class="hv" x="2422.3" y="830.4">0.928</text>
<text class="hv" x="2422.3" y="922.0">0.934</text>
<text class="hv" x="2422.3" y="1013.5">0.889</text>
<text class="hv" x="2422.3" y="1105.1">0.897</text>
<text class="hv" x="2422.3" y="1196.6">0.897</text>
<text class="hv" x="2513.9" y="189.6">0.973</text>
<text class="hv" x="2513.9" y="281.1" fill-opacity="0.3">1</text>
<text class="hv" x="2513.9" y="372.7">0.973</text>
<text class="hv" x="2513.9" y="464.2">0.923</text>
<text class="hv" x="2513.9" y="555.8">0.945</text>
<text class="hv" x="2513.9" y="647.3">0.946</text>
<text class="hv" x="2513.9" y="738.9">0.941</text>
<text class="hv" x="2513.9" y="830.4">0.938</text>
<text class="hv" x="2513.9" y="922.0">0.943</text>
<text class="hv" x="2513.9" y="1013.5">0.897</text>
<text class="hv" x="2513.9" y="1105.1">0.904</text>
<text class="hv" x="2513.9" y="1196.6">0.905</text>
<text class="hv" x="2605.4" y="189.6" fill-opacity="0.3">1</text>
<text class="hv" x="2605.4" y="281.1">0.973</text>
<text class="hv" x="2605.4" y="372.7">0.974</text>
<text class="hv" x="2605.4" y="464.2">0.926</text>
<text class="hv" x="2605.4" y="555.8">0.942</text>
<text class="hv" x="2605.4" y="647.3">0.943</text>
<text class="hv" x="2605.4" y="738.9">0.938</text>
<text class="hv" x="2605.4" y="830.4">0.932</text>
<text class="hv" x="2605.4" y="922.0">0.937</text>
<text class="hv" x="2605.4" y="1013.5">0.893</text>
<text class="hv" x="2605.4" y="1105.1">0.901</text>
<text class="hv" x="2605.4" y="1196.6">0.9</text>
<line x1="1535.8" x2="1544.3" y1="182.6" y2="182.6" stroke="#333" stroke-width="2.4"/>
<text class="hy" x="1528.1" y="191.2">A3</text>
<line x1="1535.8" x2="1544.3" y1="274.1" y2="274.1" stroke="#333" stroke-width="2.4"/>
<text class="hy" x="1528.1" y="282.7">A2</text>
<line x1="1535.8" x2="1544.3" y1="365.7" y2="365.7" stroke="#333" stroke-width="2.4"/>
<text class="hy" x="1528.1" y="374.3">A1</text>
<line x1="1535.8" x2="1544.3" y1="457.2" y2="457.2" stroke="#333" stroke-width="2.4"/>
<text class="hy" x="1528.1" y="465.8">B3</text>
<line x1="1535.8" x2="1544.3" y1="548.8" y2="548.8" stroke="#333" stroke-width="2.4"/>
<text class="hy" x="1528.1" y="557.4">B2</text>
<line x1="1535.8" x2="1544.3" y1="640.3" y2="640.3" stroke="#333" stroke-width="2.4"/>
<text class="hy" x="1528.1" y="648.9">B1</text>
<line x1="1535.8" x2="1544.3" y1="731.9" y2="731.9" stroke="#333" stroke-width="2.4"/>
<text class="hy" x="1528.1" y="740.5">C3</text>
<line x1="1535.8" x2="1544.3" y1="823.4" y2="823.4" stroke="#333" stroke-width="2.4"/>
<text class="hy" x="1528.1" y="832.0">C2</text>
<line x1="1535.8" x2="1544.3" y1="915.0" y2="915.0" stroke="#333" stroke-width="2.4"/>
<text class="hy" x="1528.1" y="923.6">C1</text>
<line x1="1535.8" x2="1544.3" y1="1006.5" y2="1006.5" stroke="#333" stroke-width="2.4"/>
<text class="hy" x="1528.1" y="1015.1">D3</text>
<line x1="1535.8" x2="1544.3" y1="1098.1" y2="1098.1" stroke="#333" stroke-width="2.4"/>
<text class="hy" x="1528.1" y="1106.7">D2</text>
<line x1="1535.8" x2="1544.3" y1="1189.6" y2="1189.6" stroke="#333" stroke-width="2.4"/>
<text class="hy" x="1528.1" y="1198.2">D1</text>
<line y1="1243.7" y2="1252.2" x1="1598.4" x2="1598.4" stroke="#333" stroke-width="2.4"/>
<text class="hx" transform="translate(1608.4 1269.9) rotate(-45)">D1</text>
<line y1="1243.7" y2="1252.2" x1="1689.9" x2="1689.9" stroke="#333" stroke-width="2.4"/>
<text class="hx" transform="translate(1699.9 1269.9) rotate(-45)">D2</text>
<line y1="1243.7" y2="1252.2" x1="1781.5" x2="1781.5" stroke="#333" stroke-width="2.4"/>
<text class="hx" transform="translate(1791.5 1269.9) rotate(-45)">D3</text>
<line y1="1243.7" y2="1252.2" x1="1873.0" x2="1873.0" stroke="#333" stroke-width="2.4"/>
<text class="hx" transform="translate(1883.0 1269.9) rotate(-45)">C1</text>
<line y1="1243.7" y2="1252.2" x1="1964.6" x2="1964.6" stroke="#333" stroke-width="2.4"/>
<text class="hx" transform="translate(1974.6 1269.9) rotate(-45)">C2</text>
<line y1="1243.7" y2="1252.2" x1="2056.1" x2="2056.1" stroke="#333" stroke-width="2.4"/>
<text class="hx" transform="translate(2066.1 1269.9) rotate(-45)">C3</text>
<line y1="1243.7" y2="1252.2" x1="2147.7" x2="2147.7" stroke="#333" stroke-width="2.4"/>
<text class="hx" transform="translate(2157.7 1269.9) rotate(-45)">B1</text>
<line y1="1243.7" y2="1252.2" x1="2239.2" x2="2239.2" stroke="#333" stroke-width="2.4"/>
<text class="hx" transform="translate(2249.2 1269.9) rotate(-45)">B2</text>
<line y1="1243.7" y2="1252.2" x1="2330.8" x2="2330.8" stroke="#333" stroke-width="2.4"/>
<text class="hx" transform="translate(2340.8 1269.9) rotate(-45)">B3</text>
<line y1="1243.7" y2="1252.2" x1="2422.3" x2="2422.3" stroke="#333" stroke-width="2.4"/>
<text class="hx" transform="translate(2432.3 1269.9) rotate(-45)">A1</text>
<line y1="1243.7" y2="1252.2" x1="2513.9" x2="2513.9" stroke="#333" stroke-width="2.4"/>
<text class="hx" transform="translate(2523.9 1269.9) rotate(-45)">A2</text>
<line y1="1243.7" y2="1252.2" x1="2605.4" x2="2605.4" stroke="#333" stroke-width="2.4"/>
<text class="hx" transform="translate(2615.4 1269.9) rotate(-45)">A3</text>
<defs><linearGradient id="cb" x1="0" y1="0" x2="0" y2="1">
<stop offset="0.0000" stop-color="#0000ff"/>
<stop offset="0.0417" stop-color="#3417ff"/>
<stop offset="0.0833" stop-color="#4d26ff"/>
<stop offset="0.1250" stop-color="#5f32ff"/>
<stop offset="0.1667" stop-color="#6e3dff"/>
<stop offset="0.2083" stop-color="#7c47ff"/>
<stop offset="0.2500" stop-color="#8952ff"/>
<stop offset="0.2917" stop-color="#945bff"/>
<stop offset="0.3333" stop-color="#9f65ff"/>
<stop offset="0.3750" stop-color="#a96fff"/>
<stop offset="0.4167" stop-color="#b178ff"/>
<stop offset="0.4583" stop-color="#ba82ff"/>
<stop offset="0.5000" stop-color="#c28bff"/>
<stop offset="0.5417" stop-color="#c995ff"/>
<stop offset="0.5833" stop-color="#cf9eff"/>
<stop offset="0.6250" stop-color="#d6a8ff"/>
<stop offset="0.6667" stop-color="#dcb1ff"/>
<stop offset="0.7083" stop-color="#e2bbff"/>
<stop offset="0.7500" stop-color="#e7c4ff"/>
<stop offset="0.7917" stop-color="#ebceff"/>
<stop offset="0.8333" stop-color="#f0d8ff"/>
<stop offset="0.8750" stop-color="#f4e2ff"/>
<stop offset="0.9167" stop-color="#f8ebff"/>
<stop offset="0.9583" stop-color="#fbf5ff"/>
<stop offset="1.0000" stop-color="#ffffff"/>
</linearGradient></defs>
<rect x="2708" y="591.8" width="49.80000000000018" height="243.5" fill="url(#cb)"/>
<line x1="2708" x2="2757.8" y1="835.3" y2="835.3" stroke="#cfcfd6" stroke-width="2"/>
<text class="ll" style="font-size:24px" x="2772" y="601.2">1.000</text>
<line x1="2708" x2="2718" y1="647.4" y2="647.4" stroke="#fff" stroke-opacity=".8" stroke-width="2"/>
<line x1="2747.8" x2="2757.8" y1="647.4" y2="647.4" stroke="#fff" stroke-opacity=".8" stroke-width="2"/>
<text class="ll" style="font-size:24px" x="2772" y="655.8">0.975</text>
<line x1="2708" x2="2718" y1="702.1" y2="702.1" stroke="#fff" stroke-opacity=".8" stroke-width="2"/>
<line x1="2747.8" x2="2757.8" y1="702.1" y2="702.1" stroke="#fff" stroke-opacity=".8" stroke-width="2"/>
<text class="ll" style="font-size:24px" x="2772" y="710.5">0.950</text>
<line x1="2708" x2="2718" y1="756.8" y2="756.8" stroke="#fff" stroke-opacity=".8" stroke-width="2"/>
<line x1="2747.8" x2="2757.8" y1="756.8" y2="756.8" stroke="#fff" stroke-opacity=".8" stroke-width="2"/>
<text class="ll" style="font-size:24px" x="2772" y="765.1">0.925</text>
<line x1="2708" x2="2718" y1="811.4" y2="811.4" stroke="#fff" stroke-opacity=".8" stroke-width="2"/>
<line x1="2747.8" x2="2757.8" y1="811.4" y2="811.4" stroke="#fff" stroke-opacity=".8" stroke-width="2"/>
<text class="ll" style="font-size:24px" x="2772" y="819.8">0.900</text>
<text class="lt" x="2708" y="570">R<tspan font-size="19.5" dx="3" dy="-17.5">2</tspan></text>
</g>
<g id="panelC">
<line y1="2358.9" y2="2358.9" x1="143.5" x2="1180" stroke="#ebebeb" stroke-width="1.4"/>
<line y1="1974.8" y2="1974.8" x1="143.5" x2="1180" stroke="#ebebeb" stroke-width="1.4"/>
<line y1="1590.8" y2="1590.8" x1="143.5" x2="1180" stroke="#ebebeb" stroke-width="1.4"/>
<line y1="2551.0" y2="2551.0" x1="143.5" x2="1180" stroke="#ebebeb" stroke-width="2.8"/>
<line y1="2166.9" y2="2166.9" x1="143.5" x2="1180" stroke="#ebebeb" stroke-width="2.8"/>
<line y1="1782.8" y2="1782.8" x1="143.5" x2="1180" stroke="#ebebeb" stroke-width="2.8"/>
<line x1="291.6" x2="291.6" y1="1442.4" y2="2603" stroke="#ebebeb" stroke-width="2.8"/>
<line x1="538.4" x2="538.4" y1="1442.4" y2="2603" stroke="#ebebeb" stroke-width="2.8"/>
<line x1="785.2" x2="785.2" y1="1442.4" y2="2603" stroke="#ebebeb" stroke-width="2.8"/>
<line x1="1032.0" x2="1032.0" y1="1442.4" y2="2603" stroke="#ebebeb" stroke-width="2.8"/>
<rect x="230.0" y="2169.6" width="41.1" height="381.4" fill="#00B2A9"/>
<text class="bl" x="250.5" y="2164.1">993</text>
<rect x="271.1" y="2331.7" width="41.1" height="219.3" fill="#0F86BF"/>
<text class="bl" x="291.6" y="2326.2">571</text>
<rect x="312.2" y="2388.9" width="41.1" height="162.1" fill="#BEBEBE"/>
<text class="bl" x="332.7" y="2383.4">422</text>
<rect x="476.8" y="1807.0" width="41.1" height="744.0" fill="#00B2A9"/>
<text class="bl" x="497.3" y="1801.5">1937</text>
<rect x="517.9" y="2191.1" width="41.1" height="359.9" fill="#0F86BF"/>
<text class="bl" x="538.4" y="2185.6">937</text>
<rect x="559.0" y="2166.9" width="41.1" height="384.1" fill="#BEBEBE"/>
<text class="bl" x="579.5" y="2161.4">1000</text>
<rect x="723.6" y="1495.5" width="41.1" height="1055.5" fill="#00B2A9"/>
<text class="bl" x="744.1" y="1490.0">2748</text>
<rect x="764.7" y="2010.6" width="41.1" height="540.4" fill="#0F86BF"/>
<text class="bl" x="785.2" y="2005.1">1407</text>
<rect x="805.8" y="2036.7" width="41.1" height="514.3" fill="#BEBEBE"/>
<text class="bl" x="826.3" y="2031.2">1339</text>
<rect x="970.4" y="2118.1" width="41.1" height="432.9" fill="#00B2A9"/>
<text class="bl" x="990.9" y="2112.6">1127</text>
<rect x="1011.5" y="2417.7" width="41.1" height="133.3" fill="#0F86BF"/>
<text class="bl" x="1032.0" y="2412.2">347</text>
<rect x="1052.5" y="2251.4" width="41.1" height="299.6" fill="#BEBEBE"/>
<text class="bl" x="1073.1" y="2245.9">780</text>
<path d="M143.5 2603V1442.4" fill="none" stroke="#8c8c8c" stroke-width="2.4"/>
<path d="M142.3 1442.4H1180" fill="none" stroke="#a8a8a8" stroke-width="3.2"/>
<path d="M1180 1440.8000000000002V2603H142.3" fill="none" stroke="#3a3a3a" stroke-width="2.4"/>
<line x1="136.5" x2="143.5" y1="2551.0" y2="2551.0" stroke="#333" stroke-width="2.4"/>
<text class="ax" text-anchor="end" x="130.0" y="2558.8">0</text>
<line x1="136.5" x2="143.5" y1="2166.9" y2="2166.9" stroke="#333" stroke-width="2.4"/>
<text class="ax" text-anchor="end" x="130.0" y="2174.7">1000</text>
<line x1="136.5" x2="143.5" y1="1782.8" y2="1782.8" stroke="#333" stroke-width="2.4"/>
<text class="ax" text-anchor="end" x="130.0" y="1790.6">2000</text>
<line y1="2603" y2="2611" x1="291.6" x2="291.6" stroke="#333" stroke-width="2.4"/>
<text class="ax" style="font-size:23.5px" text-anchor="end" transform="translate(303.6 2630.0) rotate(-45)">AlvsCK</text>
<line y1="2603" y2="2611" x1="538.4" x2="538.4" stroke="#333" stroke-width="2.4"/>
<text class="ax" style="font-size:23.5px" text-anchor="end" transform="translate(550.4 2630.0) rotate(-45)">MT_AlvsAl</text>
<line y1="2603" y2="2611" x1="785.2" x2="785.2" stroke="#333" stroke-width="2.4"/>
<text class="ax" style="font-size:23.5px" text-anchor="end" transform="translate(797.2 2630.0) rotate(-45)">MT_AlvsCK</text>
<line y1="2603" y2="2611" x1="1032.0" x2="1032.0" stroke="#333" stroke-width="2.4"/>
<text class="ax" style="font-size:23.5px" text-anchor="end" transform="translate(1044.0 2630.0) rotate(-45)">MTvsCK</text>
<text class="at" text-anchor="middle" x="661.5" y="2749" style="font-size:28.75px">compare group</text>
<text class="at" text-anchor="middle" transform="translate(65.5 2019) rotate(-90)" style="font-size:28.75px">DEG gene counts</text>
<text class="lt" x="1224" y="1957.4">type</text>
<rect x="1225" y="1977.5" width="44" height="41.5" fill="#00B2A9"/>
<text class="ll" x="1285" y="2006.5">all</text>
<rect x="1225" y="2024.0" width="44" height="41.5" fill="#0F86BF"/>
<text class="ll" x="1285" y="2053.0">down</text>
<rect x="1225" y="2070.5" width="44" height="41.5" fill="#BEBEBE"/>
<text class="ll" x="1285" y="2099.5">up</text>
</g>
<g id="panelD"><defs>
<clipPath id="cG"><ellipse cx="0" cy="0" rx="511.0" ry="292.0" transform="translate(2313.5 2095.4) rotate(-45)"/></clipPath>
<clipPath id="cB"><ellipse cx="0" cy="0" rx="511.0" ry="292.0" transform="translate(1875.5 2095.4) rotate(-135)"/></clipPath>
<clipPath id="cM"><ellipse cx="0" cy="0" rx="481.8" ry="219.0" transform="translate(2094.5 1949.4) rotate(-45)"/></clipPath>
<clipPath id="cY"><ellipse cx="0" cy="0" rx="511.0" ry="219.0" transform="translate(2094.5 1949.4) rotate(-135)"/></clipPath>
</defs>
<g clip-path="url(#cB)"><rect x="1340" y="1400" width="1527" height="1393" fill="#A9CBF7"/></g>
<g clip-path="url(#cY)"><rect x="1340" y="1400" width="1527" height="1393" fill="#FFE87A"/></g>
<g clip-path="url(#cM)"><rect x="1340" y="1400" width="1527" height="1393" fill="#EE9CFA"/></g>
<g clip-path="url(#cG)"><rect x="1340" y="1400" width="1527" height="1393" fill="#00FF6E"/></g>
<g clip-path="url(#cY)"><g clip-path="url(#cB)"><rect x="1340" y="1400" width="1527" height="1393" fill="#DDD07A"/></g></g>
<g clip-path="url(#cM)"><g clip-path="url(#cB)"><rect x="1340" y="1400" width="1527" height="1393" fill="#CC88FA"/></g></g>
<g clip-path="url(#cG)"><g clip-path="url(#cB)"><rect x="1340" y="1400" width="1527" height="1393" fill="#1ECDB9"/></g></g>
<g clip-path="url(#cM)"><g clip-path="url(#cY)"><rect x="1340" y="1400" width="1527" height="1393" fill="#FFBE82"/></g></g>
<g clip-path="url(#cG)"><g clip-path="url(#cY)"><rect x="1340" y="1400" width="1527" height="1393" fill="#AFEB1E"/></g></g>
<g clip-path="url(#cG)"><g clip-path="url(#cM)"><rect x="1340" y="1400" width="1527" height="1393" fill="#A0A0C8"/></g></g>
<g clip-path="url(#cM)"><g clip-path="url(#cY)"><g clip-path="url(#cB)"><rect x="1340" y="1400" width="1527" height="1393" fill="#E8AC78"/></g></g></g>
<g clip-path="url(#cG)"><g clip-path="url(#cM)"><g clip-path="url(#cY)"><rect x="1340" y="1400" width="1527" height="1393" fill="#D7B955"/></g></g></g>
<g clip-path="url(#cG)"><g clip-path="url(#cM)"><g clip-path="url(#cB)"><rect x="1340" y="1400" width="1527" height="1393" fill="#A080E0"/></g></g></g>
<g clip-path="url(#cG)"><g clip-path="url(#cY)"><g clip-path="url(#cB)"><rect x="1340" y="1400" width="1527" height="1393" fill="#BED264"/></g></g></g>
<g clip-path="url(#cG)"><g clip-path="url(#cM)"><g clip-path="url(#cY)"><g clip-path="url(#cB)"><rect x="1340" y="1400" width="1527" height="1393" fill="#D9AD64"/></g></g></g></g>
<text class="vn" x="1875.5" y="1668.4">308</text>
<text class="vn" x="2094.5" y="1785.2">40</text>
<text class="vn" x="2313.5" y="1668.4">546</text>
<text class="vn" x="1817.1" y="1814.4">152</text>
<text class="vn" x="1948.5" y="1945.8">362</text>
<text class="vn" x="2094.5" y="2106.4">55</text>
<text class="vn" x="2240.5" y="1945.8">16</text>
<text class="vn" x="2371.9" y="1814.4">155</text>
<text class="vn" x="1627.3" y="1945.8">928</text>
<text class="vn" x="1831.7" y="2179.4">724</text>
<text class="vn" x="1985.0" y="2237.8">39</text>
<text class="vn" x="2204.0" y="2237.8">172</text>
<text class="vn" x="2357.3" y="2179.4">22</text>
<text class="vn" x="2561.7" y="1945.8">220</text>
<text class="vn" x="2094.5" y="2383.8">314</text>
<text class="vn" x="1874.8" y="1551">MTvsCK</text>
<text class="vn" x="2313.7" y="1551">MT_AlvsAl</text>
<text class="vn" x="1596.4" y="1832.5">MT_AlvsCK</text>
<text class="vn" x="2590.4" y="1832.5">AlvsCK</text>
</g>
</svg></body></html>
